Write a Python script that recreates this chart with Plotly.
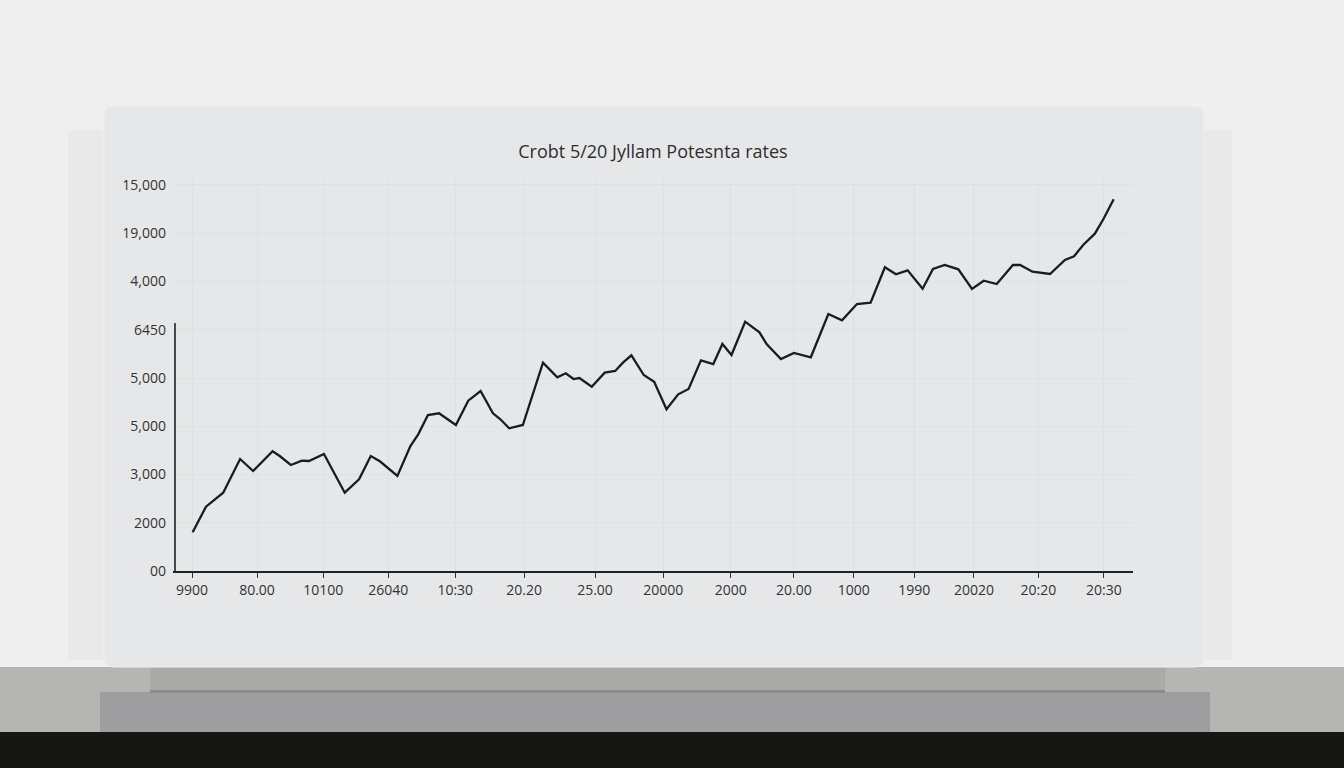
import plotly.graph_objects as go

# ---- data ----
x_vals = [0.01, 0.215, 0.33, 0.48, 0.74, 0.94, 1.24, 1.35, 1.52, 1.69, 1.80, 2.03,
          2.35, 2.57, 2.75, 2.89, 3.16, 3.36, 3.48, 3.63, 3.80, 4.06, 4.25, 4.44,
          4.63, 4.74, 4.88, 5.09, 5.40, 5.62, 5.75, 5.87, 5.96, 6.15, 6.35, 6.51,
          6.63, 6.76, 6.95, 7.11, 7.30, 7.48, 7.64, 7.83, 8.02, 8.16, 8.30, 8.51,
          8.73, 8.84, 9.06, 9.26, 9.52, 9.79, 10.00, 10.23, 10.44, 10.66, 10.83,
          11.01, 11.24, 11.40, 11.58, 11.79, 12.00, 12.18, 12.38, 12.63, 12.74,
          12.93, 13.20, 13.43, 13.57, 13.71, 13.89, 14.02, 14.18]
y_vals = [1604, 2665, 2914, 3246, 4642, 4145, 4962, 4767, 4394, 4572, 4560, 4850,
          3246, 3801, 4767, 4547, 3938, 5181, 5666, 6466, 6537, 6052, 7059, 7461,
          6537, 6300, 5915, 6052, 8634, 8029, 8195, 7958, 8000, 7639, 8220, 8290,
          8634, 8941, 8124, 7847, 6702, 7324, 7544, 8734, 8580, 9409, 8953, 10334,
          9894, 9409, 8787, 9036, 8858, 10653, 10392, 11067, 11121, 12588, 12298,
          12464, 11701, 12518, 12684, 12505, 11689, 12033, 11896, 12684, 12684,
          12406, 12311, 12891, 13044, 13513, 13981, 14578, 15407]

x_tick_vals = [0, 1.0, 2.02, 3.02, 4.05, 5.11, 6.2, 7.25, 8.29, 9.26, 10.18, 11.11,
               12.03, 13.02, 14.03]
x_tick_text = ["9900", "80.00", "10100", "26040", "10:30", "20.20", "25.00", "20000",
               "2000", "20.00", "1000", "1990", "20020", "20:20", "20:30"]
y_tick_vals = [0, 2000, 4000, 6000, 8000, 10000, 12000, 14000, 16000]
y_tick_text = ["00", "2000", "3,000", "5,000", "5,000", "6450", "4,000", "19,000", "15,000"]

title_text = "Crobt 5/20 Jyllam Potesnta rates"

# ---- figure ----
fig = go.Figure()
fig.add_trace(go.Scatter(x=x_vals, y=y_vals, mode="lines",
                         line=dict(color="#1c1c1c", width=2.3),
                         hoverinfo="skip", showlegend=False))

W, H = 1344, 768
ml, mr, mt, mb = 173, 211, 180, 197
pw, ph = W - ml - mr, H - mt - mb


def px(v):
    return (v - ml) / pw


def py(v):
    return (H - mb - v) / ph


shapes = []
# wall / shelf background pieces
shapes.append(dict(type="rect", xref="paper", yref="paper", x0=px(0), x1=px(W),
                   y0=py(667), y1=py(0), fillcolor="#efefef", line_width=0, layer="below"))
shapes.append(dict(type="rect", xref="paper", yref="paper", x0=px(0), x1=px(W),
                   y0=py(732), y1=py(667), fillcolor="#b5b5b3", line_width=0, layer="below"))
shapes.append(dict(type="rect", xref="paper", yref="paper", x0=px(100), x1=px(1210),
                   y0=py(732), y1=py(692), fillcolor="#9e9ea0", line_width=0, layer="below"))
shapes.append(dict(type="rect", xref="paper", yref="paper", x0=px(150), x1=px(1165),
                   y0=py(692), y1=py(667), fillcolor="#aaaaa8", line_width=0, layer="below"))
shapes.append(dict(type="rect", xref="paper", yref="paper", x0=px(150), x1=px(1165),
                   y0=py(693), y1=py(690), fillcolor="#8a8a88", line_width=0, layer="below"))
shapes.append(dict(type="rect", xref="paper", yref="paper", x0=px(0), x1=px(W),
                   y0=py(H), y1=py(732), fillcolor="#161614", line_width=0, layer="below"))
# soft card shadow
shapes.append(dict(type="rect", xref="paper", yref="paper", x0=px(68), x1=px(1232),
                   y0=py(660), y1=py(130), fillcolor="#e9e9e9", line_width=0, layer="below"))

# rounded card
x0, x1, y0, y1 = px(104), px(1204), py(667), py(106)
rx, ry = 10 / pw, 10 / ph
path = (f"M {x0+rx},{y1} L {x1-rx},{y1} Q {x1},{y1} {x1},{y1-ry} "
        f"L {x1},{y0+ry} Q {x1},{y0} {x1-rx},{y0} L {x0+rx},{y0} "
        f"Q {x0},{y0} {x0},{y0+ry} L {x0},{y1-ry} Q {x0},{y1} {x0+rx},{y1} Z")
shapes.append(dict(type="path", xref="paper", yref="paper", path=path,
                   fillcolor="#e6e7e9", line=dict(color="#eef0f2", width=1), layer="below"))

# short left axis line
shapes.append(dict(type="line", xref="paper", yref="y", x0=px(175), x1=px(175),
                   y0=0, y1=10280, line=dict(color="#222222", width=1.6)))

fig.update_layout(
    width=W, height=H,
    margin=dict(l=ml, r=mr, t=mt, b=mb, pad=0),
    paper_bgcolor="#efefef",
    plot_bgcolor="rgba(0,0,0,0)",
    font=dict(family="Open Sans, Noto Sans, sans-serif", color="#333333", size=14),
    title=dict(text=title_text, x=px(653), xref="paper", xanchor="center",
               y=1 - 152 / H, yanchor="middle",
               font=dict(size=18, color="#2e2e2e")),
    shapes=shapes,
    xaxis=dict(range=[(173 - 192) / 65, (1133 - 192) / 65],
               tickvals=x_tick_vals, ticktext=x_tick_text,
               showgrid=True, gridcolor="#dfe0e2", gridwidth=1,
               zeroline=False, showline=True, linecolor="#222222", linewidth=1.6,
               ticks="outside", ticklen=5, tickcolor="#333333", tickwidth=1,
               tickfont=dict(size=14, color="#333333")),
    yaxis=dict(range=[0, (571 - 180) * 41.45],
               tickvals=y_tick_vals, ticktext=y_tick_text,
               showgrid=True, gridcolor="#dfe0e2", gridwidth=1,
               zeroline=False, showline=False, ticks="",
               ticklabelstandoff=6,
               tickfont=dict(size=14, color="#333333")),
)

fig.write_html("out.html",
               config={"displayModeBar": False},
               post_script="document.body.style.margin='0';"
                           "document.body.style.overflow='hidden';")
